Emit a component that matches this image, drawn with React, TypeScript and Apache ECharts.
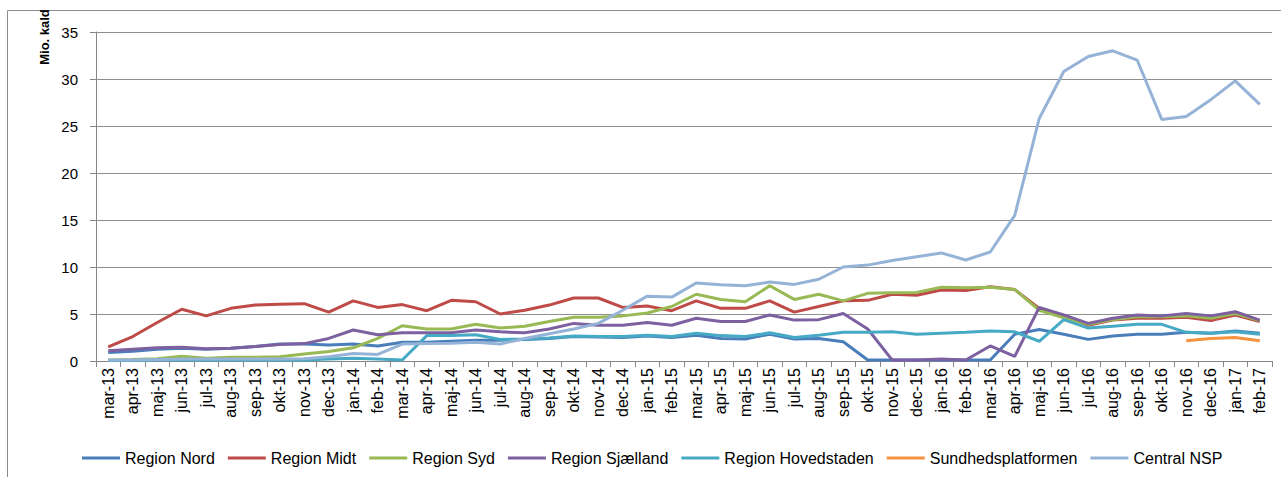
import React, { useEffect, useRef } from "react";
import * as echarts from "echarts";

const categories = [
  "mar-13", "apr-13", "maj-13", "jun-13", "jul-13", "aug-13", "sep-13", "okt-13", "nov-13", "dec-13",
  "jan-14", "feb-14", "mar-14", "apr-14", "maj-14", "jun-14", "jul-14", "aug-14", "sep-14", "okt-14", "nov-14", "dec-14",
  "jan-15", "feb-15", "mar-15", "apr-15", "maj-15", "jun-15", "jul-15", "aug-15", "sep-15", "okt-15", "nov-15", "dec-15",
  "jan-16", "feb-16", "mar-16", "apr-16", "maj-16", "jun-16", "jul-16", "aug-16", "sep-16", "okt-16", "nov-16", "dec-16",
  "jan-17", "feb-17",
];

const regionNord = [
  0.9, 1.05, 1.25, 1.35, 1.25, 1.35, 1.55, 1.8,
  1.8, 1.7, 1.8, 1.6, 2.0, 2.0, 2.1, 2.2,
  2.2, 2.3, 2.4, 2.6, 2.55, 2.5, 2.65, 2.5,
  2.75, 2.4, 2.35, 2.85, 2.35, 2.4, 2.05, 0.1,
  0.1, 0.1, 0.1, 0.1, 0.1, 2.85, 3.35, 2.85,
  2.3, 2.65, 2.85, 2.85, 3.05, 2.95, 3.2, 2.95,
];

const regionMidt = [
  1.5, 2.6, 4.1, 5.5, 4.8, 5.6, 5.95, 6.05,
  6.1, 5.2, 6.4, 5.7, 6.0, 5.35, 6.45, 6.3,
  5.0, 5.4, 5.95, 6.7, 6.7, 5.7, 5.85, 5.35,
  6.4, 5.6, 5.6, 6.4, 5.2, 5.8, 6.4, 6.45,
  7.1, 7.0, 7.55, 7.5, 7.9, 7.6, 5.6, 4.8,
  3.8, 4.35, 4.55, 4.55, 4.65, 4.3, 4.9, 4.2,
];

const regionSyd = [
  0.1, 0.15, 0.25, 0.5, 0.3, 0.4, 0.4, 0.45,
  0.75, 1.0, 1.4, 2.4, 3.75, 3.4, 3.4, 3.9,
  3.5, 3.7, 4.2, 4.65, 4.65, 4.8, 5.1, 5.8,
  7.1, 6.55, 6.3, 8.0, 6.55, 7.1, 6.4, 7.2,
  7.25, 7.3, 7.85, 7.8, 7.85, 7.6, 5.4, 4.6,
  3.9, 4.4, 4.7, 4.7, 4.8, 4.55, 5.05, 4.3,
];

const regionSjaelland = [
  1.1, 1.25, 1.4, 1.45, 1.3, 1.35, 1.55, 1.75,
  1.85, 2.4, 3.3, 2.8, 3.0, 3.0, 3.0, 3.3,
  3.1, 3.0, 3.4, 4.0, 3.8, 3.8, 4.1, 3.8,
  4.55, 4.2, 4.2, 4.9, 4.35, 4.4, 5.05, 3.4,
  0.1, 0.1, 0.2, 0.1, 1.6, 0.5, 5.7, 4.9,
  4.0, 4.55, 4.9, 4.8, 5.05, 4.8, 5.25, 4.35,
];

const regionHovedstaden = [
  0.05, 0.05, 0.1, 0.1, 0.1, 0.1, 0.1, 0.1,
  0.1, 0.2, 0.3, 0.2, 0.1, 2.7, 2.7, 2.8,
  2.3, 2.35, 2.45, 2.65, 2.6, 2.6, 2.75, 2.6,
  2.95, 2.7, 2.6, 3.0, 2.5, 2.75, 3.05, 3.05,
  3.1, 2.85, 2.95, 3.05, 3.2, 3.1, 2.1, 4.4,
  3.5, 3.7, 3.9, 3.9, 3.05, 2.95, 3.1, 2.85,
];

const sundhedsplatformen = [
  null, null, null, null, null, null, null, null,
  null, null, null, null, null, null, null, null,
  null, null, null, null, null, null, null, null,
  null, null, null, null, null, null, null, null,
  null, null, null, null, null, null, null, null,
  null, null, null, null, 2.15, 2.4, 2.5, 2.15,
];

const centralNSP = [
  0.1, 0.1, 0.15, 0.2, 0.2, 0.2, 0.2, 0.2,
  0.25, 0.45, 0.8, 0.7, 1.8, 1.85, 1.9, 2.0,
  1.8, 2.4, 2.9, 3.4, 4.0, 5.4, 6.9, 6.8,
  8.3, 8.1, 8.0, 8.4, 8.15, 8.7, 10.0, 10.2,
  10.7, 11.1, 11.5, 10.75, 11.6, 15.5, 25.8, 30.8,
  32.4, 33.0, 32.0, 25.7, 26.0, 27.8, 29.8, 27.3,
];

const seriesNames = [
  "Region Nord", "Region Midt", "Region Syd", "Region Sjælland",
  "Region Hovedstaden", "Sundhedsplatformen", "Central NSP",
];
const seriesData = [
  regionNord, regionMidt, regionSyd, regionSjaelland,
  regionHovedstaden, sundhedsplatformen, centralNSP,
];
const seriesColors = [
  "#4A7EBB", "#BE4B48", "#98B954", "#7D60A0", "#46AAC5", "#F69240", "#95B3D7",
];

const yAxisTitle = "Mio. kald";

export default function App() {
  const ref = useRef<HTMLDivElement>(null);

  useEffect(() => {
    if (!ref.current) return;
    const chart = echarts.init(ref.current, undefined, { renderer: "svg" });
    const font = "Liberation Sans";
    chart.setOption({
      animation: false,
      backgroundColor: "#ffffff",
      textStyle: { fontFamily: font },
      grid: { left: 96, right: 9, top: 32, bottom: 116, containLabel: false },
      legend: {
        left: 82,
        top: 450,
        padding: 0,
        itemWidth: 38,
        itemHeight: 3,
        itemGap: 13,
        icon: "rect",
        textStyle: { fontSize: 16, color: "#000", fontFamily: font },
        data: seriesNames,
      },
      xAxis: {
        type: "category",
        data: categories,
        boundaryGap: true,
        axisLine: { show: true, lineStyle: { color: "#868686", width: 1 } },
        axisTick: { show: true, length: 6, lineStyle: { color: "#868686" } },
        axisLabel: {
          interval: 0,
          rotate: 90,
          margin: 7,
          fontSize: 16,
          color: "#000",
          fontFamily: font,
        },
        splitLine: { show: false },
      },
      yAxis: {
        type: "value",
        min: 0,
        max: 35,
        interval: 5,
        axisLine: { show: true, lineStyle: { color: "#868686", width: 1 } },
        axisTick: { show: true, length: 6, lineStyle: { color: "#868686" } },
        axisLabel: { fontSize: 15, color: "#000", margin: 18, fontFamily: font },
        splitLine: { show: true, lineStyle: { color: "#8f8f8f", width: 1 } },
      },
      graphic: [
        {
          type: "polyline",
          shape: { points: [[7.5, 480], [7.5, 10.5], [1290, 10.5]] },
          style: { stroke: "#8c8c8c", lineWidth: 1, fill: "none" },
          silent: true,
        },
        {
          type: "text",
          x: 44,
          y: 37,
          rotation: Math.PI / 2,
          style: {
            text: yAxisTitle,
            font: `bold 13px "${font}"`,
            fill: "#000",
            align: "center",
            verticalAlign: "middle",
          },
        },
      ],
      series: seriesNames.map((name, i) => ({
        name,
        type: "line",
        data: seriesData[i],
        showSymbol: false,
        symbol: "none",
        connectNulls: false,
        color: seriesColors[i],
        lineStyle: { color: seriesColors[i], width: 3 },
        z: 2 + i,
      })),
    });
    return () => chart.dispose();
  }, []);

  return (
    <div
      ref={ref}
      style={{ position: "fixed", left: 0, top: 0, width: 1281, height: 477 }}
    />
  );
}
